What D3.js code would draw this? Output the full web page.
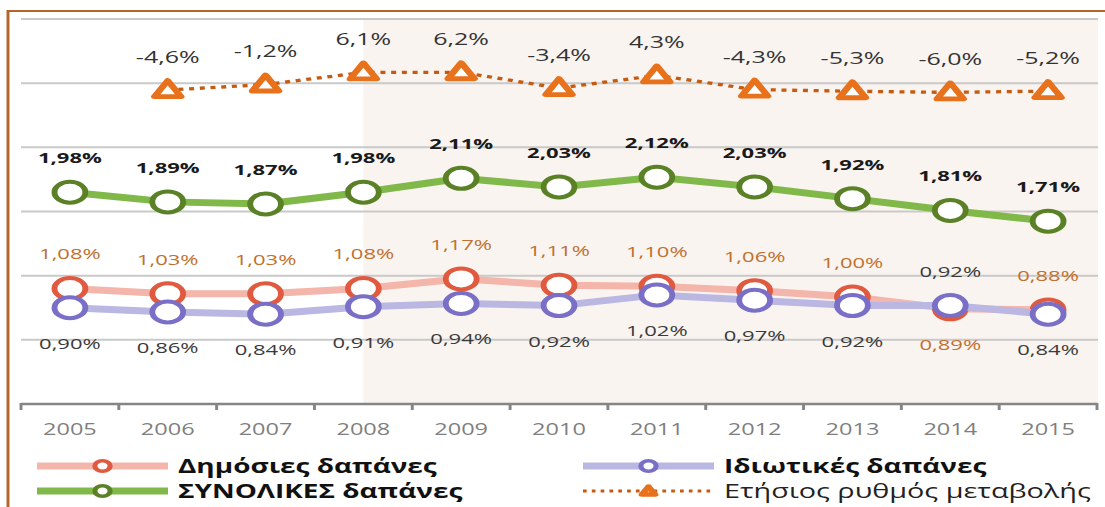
<!DOCTYPE html>
<html>
<head>
<meta charset="utf-8">
<script src="https://cdn.jsdelivr.net/npm/d3@7"></script>
<style>
  body { margin: 0; background: #fff; }
  svg { display: block; font-family: "Open Sans", sans-serif; }
</style>
</head>
<body>
<svg id="chart"></svg>
<script>
const years = [2005, 2006, 2007, 2008, 2009, 2010, 2011, 2012, 2013, 2014, 2015];
const publicSpend = [1.08, 1.03, 1.03, 1.08, 1.17, 1.11, 1.10, 1.06, 1.00, 0.89, 0.88];
const privateSpend = [0.90, 0.86, 0.84, 0.91, 0.94, 0.92, 1.02, 0.97, 0.92, 0.92, 0.84];
const totalSpend = [1.98, 1.89, 1.87, 1.98, 2.11, 2.03, 2.12, 2.03, 1.92, 1.81, 1.71];
const changeRate = [null, -4.6, -1.2, 6.1, 6.2, -3.4, 4.3, -4.3, -5.3, -6.0, -5.2];
const gridTicks = [0.6, 1.2, 1.8, 2.4, 3.0, 3.6];
const shadeFrom = 2008;
const legendNames = ['Δημόσιες δαπάνες', 'Ιδιωτικές δαπάνες', 'ΣΥΝΟΛΙΚΕΣ δαπάνες', 'Ετήσιος ρυθμός μεταβολής'];

const W = 1105, H = 507;
const sx = 1.47; // the picture is stretched sideways

const gr = d3.formatLocale({ decimal: ',', thousands: '.', grouping: [3], currency: ['', '€'], minus: '-' });
const fmt2 = gr.format('.2f'), fmt1 = gr.format('.1f');

const svg = d3.select('#chart').attr('width', W).attr('height', H);
const g = svg.append('g').attr('transform', `scale(${sx},1)`);

const x = d3.scaleBand().domain(years).range([21 / sx, 1097 / sx]);
const cx = d => x(d) + x.bandwidth() / 2;
const y = d3.scaleLinear().domain([0, 3.6]).range([404, 19]);
const y2 = d3.scaleLinear().domain([-10, 10]).range([99, 66]);

// frame
g.append('rect')
  .attr('x', 8 / sx).attr('y', 11)
  .attr('width', 2000).attr('height', 1000)
  .attr('fill', 'none').attr('stroke', '#b4652a').attr('stroke-width', 2);

// shaded period
g.append('rect')
  .attr('x', cx(shadeFrom)).attr('y', y(3.6))
  .attr('width', 1098 / sx - cx(shadeFrom)).attr('height', y(0) - y(3.6))
  .attr('fill', '#faf4f0');

// gridlines
g.selectAll('.grid').data(gridTicks).join('line')
  .attr('class', 'grid')
  .attr('x1', 21 / sx).attr('x2', 1098 / sx)
  .attr('y1', d => y(d)).attr('y2', d => y(d))
  .attr('stroke', '#c9c9c9').attr('stroke-width', 2);

// x axis
const xAxis = g.append('g').attr('transform', `translate(0,${y(0)})`)
  .call(d3.axisBottom(x).tickSize(0).tickPadding(20));
xAxis.select('.domain').remove();
xAxis.selectAll('text').attr('font-size', 16).attr('fill', '#7f7f7f').attr('font-family', '"Open Sans", sans-serif');
xAxis.append('line')
  .attr('x1', x.range()[0]).attr('x2', x.range()[1])
  .attr('stroke', '#858585').attr('stroke-width', 2.5);
xAxis.selectAll('.tk').data(years.concat([null])).join('line')
  .attr('class', 'tk')
  .attr('x1', (d, i) => x.range()[0] + i * x.bandwidth())
  .attr('x2', (d, i) => x.range()[0] + i * x.bandwidth())
  .attr('y1', -1).attr('y2', 6)
  .attr('stroke', '#858585').attr('stroke-width', 2);

// annual change line
const rateData = years.map((yr, i) => ({ yr, v: changeRate[i] })).filter(d => d.v !== null);
g.append('path').datum(rateData)
  .attr('d', d3.line().x(d => cx(d.yr)).y(d => y2(d.v)))
  .attr('fill', 'none').attr('stroke', '#c55a11')
  .attr('stroke-width', 3.3).attr('stroke-dasharray', '3.4 3.9');

const tri = 'M0,-9.5L9,6.5L-9,6.5Z';
g.selectAll('.tri').data(rateData).join('path')
  .attr('class', 'tri')
  .attr('d', tri)
  .attr('transform', d => `translate(${cx(d.yr)},${y2(d.v)})`)
  .attr('fill', '#fff').attr('stroke', '#e8711c')
  .attr('stroke-width', 4.8).attr('stroke-linejoin', 'round');

g.selectAll('.rlab').data(rateData).join('text')
  .attr('class', 'rlab')
  .attr('x', d => cx(d.yr)).attr('y', d => y2(d.v) - 27)
  .attr('text-anchor', 'middle').attr('font-size', 17).attr('fill', '#333')
  .text(d => fmt1(d.v) + '%');

// spending series
const series = [
  { key: 'pub', vals: publicSpend, line: '#f4b5aa', mark: '#e05a40' },
  { key: 'priv', vals: privateSpend, line: '#bab7e2', mark: '#7a6fc6' },
  { key: 'tot', vals: totalSpend, line: '#80b94a', mark: '#5b8127' }
];

series.forEach(s => {
  const pts = years.map((yr, i) => ({ yr, v: s.vals[i] }));
  g.append('path').datum(pts)
    .attr('d', d3.line().x(d => cx(d.yr)).y(d => y(d.v)))
    .attr('fill', 'none').attr('stroke', s.line).attr('stroke-width', 7);
  g.selectAll('.m-' + s.key).data(pts).join('circle')
    .attr('class', 'm-' + s.key)
    .attr('cx', d => cx(d.yr)).attr('cy', d => y(d.v)).attr('r', 10.5)
    .attr('fill', '#fff').attr('stroke', s.mark).attr('stroke-width', 4);
});

// value labels
years.forEach((yr, i) => {
  const pubUp = publicSpend[i] >= privateSpend[i];
  g.append('text')
    .attr('x', cx(yr)).attr('y', y(totalSpend[i]) - 29)
    .attr('text-anchor', 'middle').attr('font-size', 15).attr('font-weight', 'bold').attr('fill', '#1a1a1a')
    .text(fmt2(totalSpend[i]) + '%');
  g.append('text')
    .attr('x', cx(yr)).attr('y', pubUp ? y(publicSpend[i]) - 29 : y(publicSpend[i]) + 41)
    .attr('text-anchor', 'middle').attr('font-size', 15).attr('fill', '#c0702f')
    .text(fmt2(publicSpend[i]) + '%');
  g.append('text')
    .attr('x', cx(yr)).attr('y', pubUp ? y(privateSpend[i]) + 41 : y(privateSpend[i]) - 29)
    .attr('text-anchor', 'middle').attr('font-size', 15).attr('fill', '#3a3a3a')
    .text(fmt2(privateSpend[i]) + '%');
});

// legend
const legend = [
  { col: 0, row: 0, line: '#f4b5aa', mark: '#e05a40', bold: true },
  { col: 1, row: 0, line: '#bab7e2', mark: '#7a6fc6', bold: true },
  { col: 0, row: 1, line: '#80b94a', mark: '#5b8127', bold: true },
  { col: 1, row: 1, line: '#c55a11', mark: '#e8711c', bold: false, dotted: true }
];
legend.forEach((l, i) => {
  const x0 = (l.col ? 583 : 37) / sx, len = 131 / sx, ly = l.row ? 491 : 466;
  const lg = g.append('g');
  if (l.dotted) {
    lg.append('line').attr('x1', x0).attr('x2', x0 + len).attr('y1', ly).attr('y2', ly)
      .attr('stroke', l.line).attr('stroke-width', 3).attr('stroke-dasharray', '2.5 3.5');
    lg.append('path').attr('d', 'M0,-4.5L4.5,3.5L-4.5,3.5Z')
      .attr('transform', `translate(${x0 + len / 2},${ly})`)
      .attr('fill', '#fbd3b5').attr('stroke', l.mark).attr('stroke-width', 4.5).attr('stroke-linejoin', 'round');
  } else {
    lg.append('line').attr('x1', x0).attr('x2', x0 + len).attr('y1', ly).attr('y2', ly)
      .attr('stroke', l.line).attr('stroke-width', 7);
    lg.append('circle').attr('cx', x0 + len / 2).attr('cy', ly).attr('r', 5.2)
      .attr('fill', '#fff').attr('stroke', l.mark).attr('stroke-width', 3.5);
  }
  lg.append('text')
    .attr('x', x0 + len + 10 / sx).attr('y', ly + 7)
    .attr('font-size', l.bold ? 19 : 19.6).attr('font-weight', l.bold ? 'bold' : 'normal')
    .attr('fill', l.bold ? '#111' : '#222')
    .text(legendNames[i]);
});
</script>
</body>
</html>
